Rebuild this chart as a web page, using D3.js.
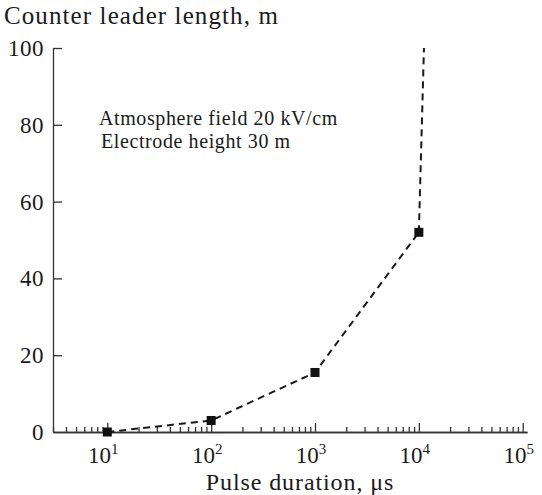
<!DOCTYPE html>
<html>
<head>
<meta charset="utf-8">
<script src="https://cdn.jsdelivr.net/npm/d3@7"></script>
<style>
  body { margin: 0; background: #fff; }
  svg text { font-family: "Liberation Serif", "Times New Roman", serif; fill: #1a1a1a; }
</style>
</head>
<body>
<div id="chart"></div>
<script>
// Data
var pulseDurations = [10, 100, 1000, 10000];   // us
var leaderLengths = [0, 3, 15.5, 52];          // m
// dashed extension above the last point (no marker)
var tailDuration = [10000, 11200];
var tailLength = [52, 100];

var xTickValues = [10, 100, 1000, 10000, 100000];
var xTickExponents = ["1", "2", "3", "4", "5"];
var yTickValues = [0, 20, 40, 60, 80, 100];

var annotationLines = ["Atmosphere field 20 kV/cm", "Electrode height 30 m"];

var serif = "'Liberation Serif', 'Times New Roman', serif";

// Set up the SVG
var svgWidth = 542;
var svgHeight = 495;

var margin = { top: 48, right: 15, bottom: 63, left: 53 };
var width = svgWidth - margin.left - margin.right;
var height = svgHeight - margin.top - margin.bottom;

var svg = d3.select("#chart")
  .append("svg")
  .attr("width", svgWidth)
  .attr("height", svgHeight);

var chartGroup = svg.append("g")
  .attr("transform", `translate(${margin.left}, ${margin.top})`);

// Scales
var xLogScale = d3.scaleLog()
  .domain([3, 110000])
  .range([0, width]);

var yLinearScale = d3.scaleLinear()
  .domain([0, 100])
  .range([height, 0]);

// Minor ticks for the log axis
var minorTicks = [];
for (var e = 0; e < 5; e++) {
  for (var m = 2; m <= 9; m++) {
    var v = m * Math.pow(10, e);
    if (v >= 3 && v <= 110000) minorTicks.push(v);
  }
}

// Axes (ticks point inward)
var bottomAxis = d3.axisBottom(xLogScale)
  .tickValues(xTickValues)
  .tickSizeInner(-9)
  .tickSizeOuter(0)
  .tickFormat("");

var minorAxis = d3.axisBottom(xLogScale)
  .tickValues(minorTicks)
  .tickSizeInner(-5)
  .tickSizeOuter(0)
  .tickFormat("");

var leftAxis = d3.axisLeft(yLinearScale)
  .tickValues(yTickValues.filter(d => d > 0))
  .tickSizeInner(-9)
  .tickSizeOuter(0)
  .tickFormat("");

chartGroup.append("g")
  .attr("class", "axis")
  .attr("transform", `translate(0, ${height})`)
  .call(minorAxis);

chartGroup.append("g")
  .attr("class", "axis")
  .attr("transform", `translate(0, ${height})`)
  .call(bottomAxis);

chartGroup.append("g")
  .attr("class", "axis")
  .call(leftAxis);

chartGroup.selectAll(".axis path, .axis line")
  .attr("stroke", "#333")
  .attr("stroke-width", 1.3);

// Y tick labels
chartGroup.selectAll(".ylabel")
  .data(yTickValues)
  .enter()
  .append("text")
  .attr("x", -9)
  .attr("y", d => yLinearScale(d))
  .attr("dy", "0.35em")
  .attr("text-anchor", "end")
  .attr("font-family", serif)
  .attr("font-size", 23)
  .attr("letter-spacing", 0.5)
  .text(d => d);

// X tick labels, 10 with a superscript exponent
var xLabels = chartGroup.selectAll(".xlabel")
  .data(xTickValues)
  .enter()
  .append("text")
  .attr("x", d => xLogScale(d) - 4)
  .attr("y", height + 31)
  .attr("text-anchor", "middle")
  .attr("font-family", serif)
  .attr("font-size", 23);

xLabels.append("tspan").text("10");
xLabels.append("tspan")
  .attr("dy", -9)
  .attr("font-size", 15)
  .text((d, i) => xTickExponents[i]);

// Axis titles
svg.append("text")
  .attr("x", 4)
  .attr("y", 24)
  .attr("font-family", serif)
  .attr("font-size", 25)
  .attr("letter-spacing", 1.1)
  .text("Counter leader length, m");

svg.append("text")
  .attr("x", 300)
  .attr("y", 490)
  .attr("text-anchor", "middle")
  .attr("font-family", serif)
  .attr("font-size", 24)
  .attr("letter-spacing", 0.9)
  .text("Pulse duration, \u03bcs");

// Annotation
chartGroup.selectAll(".note")
  .data(annotationLines)
  .enter()
  .append("text")
  .attr("x", (d, i) => 46 + i * 2)
  .attr("y", (d, i) => 77 + i * 23)
  .attr("font-family", serif)
  .attr("font-size", 20)
  .attr("letter-spacing", 0.6)
  .text(d => d);

// Dashed line through the points and its extension
var line = d3.line()
  .x(d => xLogScale(d[0]))
  .y(d => yLinearScale(d[1]));

var mainPoints = d3.zip(pulseDurations, leaderLengths);
var tailPoints = d3.zip(tailDuration, tailLength);

chartGroup.append("path")
  .datum(mainPoints)
  .attr("d", line)
  .attr("fill", "none")
  .attr("stroke", "#1a1a1a")
  .attr("stroke-width", 2)
  .attr("stroke-dasharray", "7,5");

chartGroup.append("path")
  .datum(tailPoints)
  .attr("d", line)
  .attr("fill", "none")
  .attr("stroke", "#1a1a1a")
  .attr("stroke-width", 2)
  .attr("stroke-dasharray", "7,5");

// Square markers
chartGroup.selectAll(".marker")
  .data(mainPoints)
  .enter()
  .append("rect")
  .attr("x", d => xLogScale(d[0]) - 4.5)
  .attr("y", d => yLinearScale(d[1]) - 4.5)
  .attr("width", 9)
  .attr("height", 9)
  .attr("fill", "#111");
</script>
</body>
</html>
